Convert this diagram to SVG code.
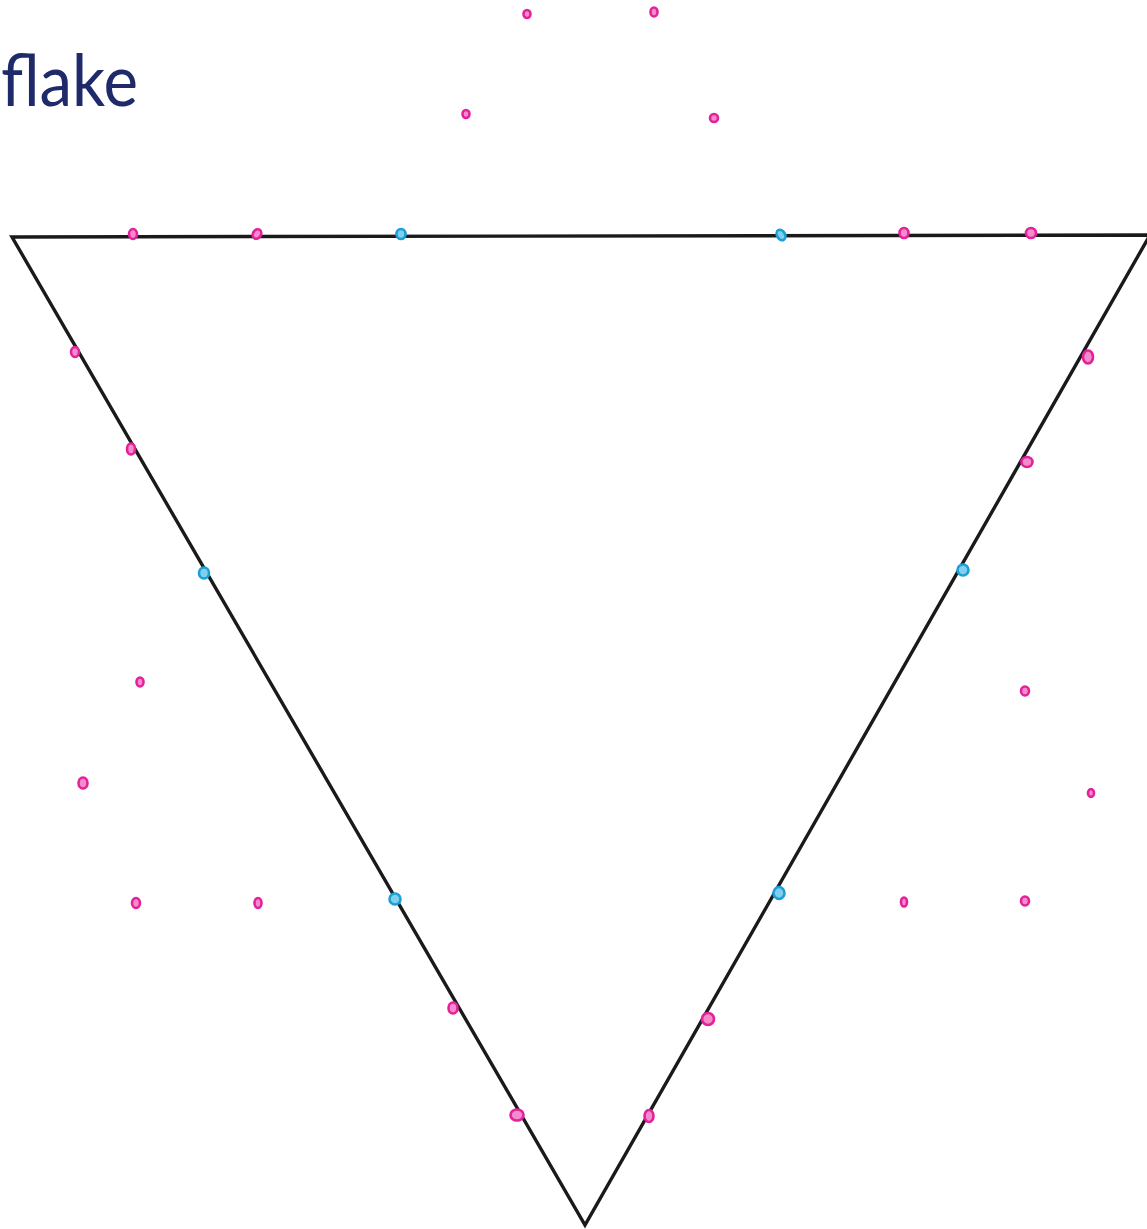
<svg xmlns="http://www.w3.org/2000/svg" width="1147" height="1229" viewBox="0 0 1147 1229">
<style>
.p{fill:#f48ccb;stroke:#e4209a;stroke-width:2.6}
.c{fill:#7fd0ef;stroke:#1a9fd6;stroke-width:2.6}
.t{font-family:Lato,"Open Sans",sans-serif;font-size:72px;fill:#1f2a6b}
</style>
<rect width="1147" height="1229" fill="#ffffff"/>
<text class="t" x="1" y="106" textLength="137" lengthAdjust="spacingAndGlyphs">flake</text>
<polygon id="triangle" points="12,237 1150,235 585,1225" fill="none" stroke="#1a1a1a" stroke-width="3.4"/>
<g id="dots">
<ellipse class="p" cx="133" cy="234" rx="4" ry="5"/>
<ellipse class="p" cx="257" cy="234" rx="4" ry="5" transform="rotate(30 257 234)"/>
<ellipse class="c" cx="401" cy="234" rx="4.5" ry="5"/>
<ellipse class="c" cx="781" cy="235" rx="4" ry="5.5" transform="rotate(-30 781 235)"/>
<ellipse class="p" cx="904" cy="233" rx="4.5" ry="5"/>
<ellipse class="p" cx="1031" cy="233" rx="5" ry="5"/>
<ellipse class="p" cx="527" cy="14" rx="3.5" ry="4"/>
<ellipse class="p" cx="654" cy="12" rx="3.5" ry="4.5"/>
<ellipse class="p" cx="466" cy="114" rx="3.5" ry="4"/>
<ellipse class="p" cx="714" cy="118" rx="4" ry="4"/>
<ellipse class="p" cx="75" cy="352" rx="4" ry="5"/>
<ellipse class="p" cx="131" cy="449" rx="4" ry="5.5"/>
<ellipse class="c" cx="204" cy="573" rx="5" ry="5.5"/>
<ellipse class="c" cx="395" cy="899" rx="5.5" ry="5.5"/>
<ellipse class="p" cx="453" cy="1008" rx="4.5" ry="5.5"/>
<ellipse class="p" cx="517" cy="1115" rx="6.5" ry="5.5"/>
<ellipse class="p" cx="140" cy="682" rx="3.5" ry="4.5"/>
<ellipse class="p" cx="83" cy="783" rx="4.5" ry="5.5"/>
<ellipse class="p" cx="136" cy="903" rx="4" ry="5"/>
<ellipse class="p" cx="258" cy="903" rx="3.5" ry="5"/>
<ellipse class="p" cx="1088" cy="357" rx="5" ry="6.5"/>
<ellipse class="p" cx="1027" cy="462" rx="5.5" ry="5"/>
<ellipse class="c" cx="963" cy="570" rx="5.5" ry="5.5"/>
<ellipse class="c" cx="779" cy="893" rx="5.5" ry="6"/>
<ellipse class="p" cx="708" cy="1019" rx="6" ry="6"/>
<ellipse class="p" cx="649" cy="1116" rx="4.5" ry="6"/>
<ellipse class="p" cx="1025" cy="691" rx="4" ry="4.5"/>
<ellipse class="p" cx="1091" cy="793" rx="3" ry="4"/>
<ellipse class="p" cx="904" cy="902" rx="3" ry="4.5"/>
<ellipse class="p" cx="1025" cy="901" rx="4" ry="4.5"/>
</g>
</svg>
